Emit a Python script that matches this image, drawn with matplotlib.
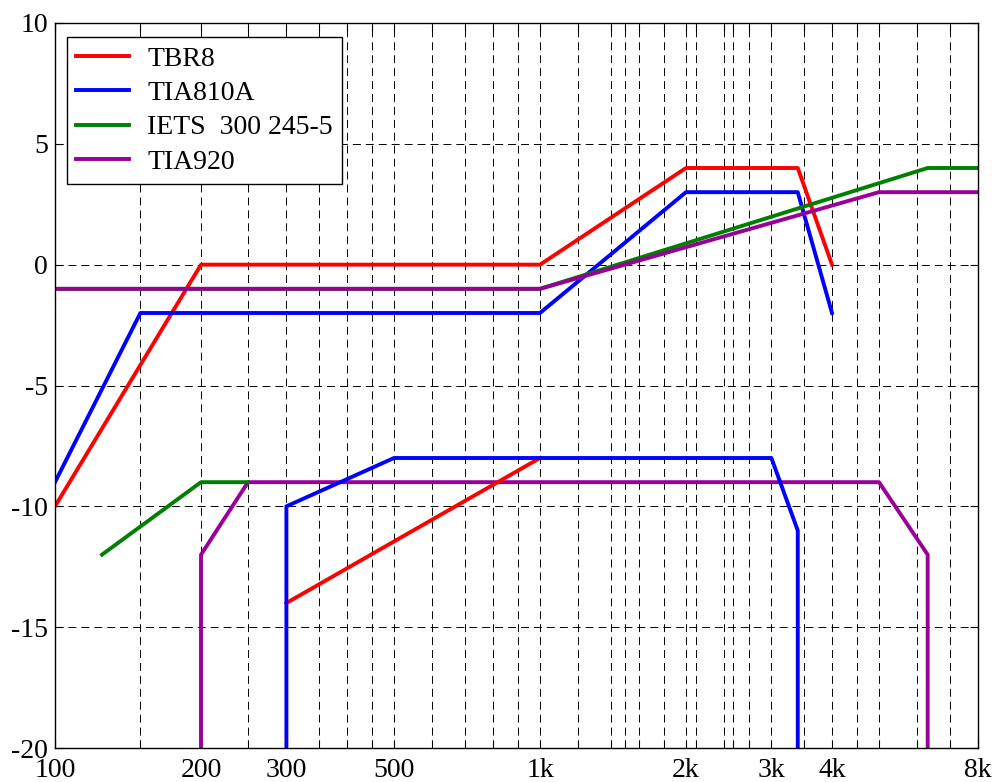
import numpy as np
import matplotlib.pyplot as plt
from matplotlib.ticker import FixedLocator, FixedFormatter, NullLocator

plt.rcParams['font.family'] = ['Liberation Serif', 'DejaVu Serif']

# upper masks (frequency in Hz, level in dB)
tbr8_up_f = [100, 200, 1000, 2000, 3400, 4000]
tbr8_up_v = [-10, 0, 0, 4, 4, 0]
tia810_up_f = [100, 150, 1000, 2000, 3400, 4000]
tia810_up_v = [-9, -2, -2, 3, 3, -2]
iets_up_f = [100, 1000, 6300, 8000]
iets_up_v = [-1, -1, 4, 4]
tia920_up_f = [100, 1000, 5000, 8000]
tia920_up_v = [-1, -1, 3, 3]

# lower masks
tbr8_lo_f = [300, 1000]
tbr8_lo_v = [-14, -8]
tia810_lo_f = [300, 300, 500, 3000, 3400, 3400]
tia810_lo_v = [-20, -10, -8, -8, -11, -20]
iets_lo_f = [125, 200, 250]
iets_lo_v = [-12, -9, -9]
tia920_lo_f = [200, 200, 250, 5000, 6300, 6300]
tia920_lo_v = [-20, -12, -9, -9, -12, -20]

grid_f = [100, 150, 200, 250, 300, 350, 400, 450, 500, 600, 700, 800, 900,
          1000, 1200, 1400, 1500, 1600, 1800, 2000, 2100, 2400, 2500, 2700,
          3000, 3500, 4000, 4500, 5000, 6000, 7000, 8000]
labelled = {100: '100', 200: '200', 300: '300', 500: '500', 1000: '1k',
            2000: '2k', 3000: '3k', 4000: '4k', 8000: '8k'}
yticks = [-20, -15, -10, -5, 0, 5, 10]

red, blue, green, purple = '#ff0000', '#0000ff', '#008000', '#990099'
lw = 2.8

fig = plt.figure(figsize=(9.99, 7.82), dpi=100)
ax = fig.add_axes([55/999, 1-748/782, 923/999, 725/782])
ax.set_xscale('log')

ax.plot(tbr8_up_f, tbr8_up_v, color=red, lw=lw, label='TBR8')
ax.plot(tia810_up_f, tia810_up_v, color=blue, lw=lw, label='TIA810A')
ax.plot(iets_up_f, iets_up_v, color=green, lw=lw, label='IETS  300 245-5')
ax.plot(tia920_up_f, tia920_up_v, color=purple, lw=lw, label='TIA920')

ax.plot(tia920_lo_f, tia920_lo_v, color=purple, lw=lw)
ax.plot(iets_lo_f, iets_lo_v, color=green, lw=lw)
ax.plot(tbr8_lo_f, tbr8_lo_v, color=red, lw=lw)
ax.plot(tia810_lo_f, tia810_lo_v, color=blue, lw=lw)

ax.set_xlim(100, 8000)
ax.set_ylim(-20, 10)
ax.xaxis.set_major_locator(FixedLocator(grid_f))
ax.xaxis.set_major_formatter(FixedFormatter([labelled.get(f, '') for f in grid_f]))
ax.xaxis.set_minor_locator(NullLocator())
ax.set_yticks(yticks)
ax.set_yticklabels([str(v) for v in yticks])

ax.grid(True, color='black', lw=0.7, linestyle=(0, (8.2, 5.1)))
ax.tick_params(direction='in', length=6, width=0.8, top=True, right=True,
               labelsize=20, pad=5)
ax.tick_params(axis='x', pad=7)
for s in ax.spines.values():
    s.set_linewidth(1.0)

leg = ax.legend(loc='upper left', bbox_to_anchor=(67/999, 1-37/782),
                bbox_transform=fig.transFigure, borderaxespad=0,
                fontsize=20, fancybox=False, framealpha=1, edgecolor='black',
                handlelength=1.9, handletextpad=0.65, labelspacing=0.32,
                borderpad=0.33)
leg.get_frame().set_linewidth(1.0)

fig.savefig('out.png', dpi=100)
